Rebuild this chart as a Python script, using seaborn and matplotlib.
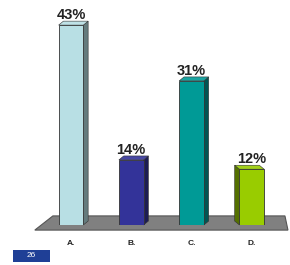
import matplotlib
matplotlib.use("Agg")
import matplotlib.pyplot as plt
import seaborn as sns
import pandas as pd
import numpy as np
from matplotlib.patches import Polygon, Rectangle
import matplotlib.colors as mcolors

categories = ["A.", "B.", "C.", "D."]
values = [43, 14, 31, 12]
labels = ["43%", "14%", "31%", "12%"]
colors = ["#b8dfe4", "#333399", "#009a96", "#99cc00"]
side_dir = [1, 1, 1, -1]
page_number = "26"

sns.set_theme(style="white")
plt.rcParams["font.family"] = ["Liberation Sans", "DejaVu Sans"]

fig = plt.figure(figsize=(2.9, 2.65), dpi=100)
ax = fig.add_axes([0.12, 0.151, 0.873, 0.842])

df = pd.DataFrame({"cat": categories, "val": values})
sns.barplot(data=df, x="cat", y="val", hue="cat", palette=colors, legend=False,
            saturation=1, width=0.41, ax=ax, edgecolor="#333333",
            linewidth=0.6, zorder=3)

ax.set_xlim(-0.6, 3.6)
ax.set_ylim(0, 48)

# floor
floor = Polygon([(-0.6, -1.1), (3.6, -1.1), (3.55, 1.95), (-0.3, 1.95)],
                closed=True, facecolor="#808080", edgecolor="#555555",
                linewidth=0.8, clip_on=False, zorder=1)
ax.add_patch(floor)

dx, dy = 0.08, 0.85
for p, c, d, lab in zip(ax.patches[:len(values)], colors, side_dir, labels):
    x0 = p.get_x()
    w = p.get_width()
    h = p.get_height()
    x1 = x0 + w
    dark = np.array(mcolors.to_rgb(c)) * 0.55
    light = np.clip(np.array(mcolors.to_rgb(c)) * 0.9 + 0.1, 0, 1)
    if d > 0:
        side = [(x1, 0), (x1 + dx, dy), (x1 + dx, h + dy), (x1, h)]
        top = [(x0, h), (x0 + dx, h + dy), (x1 + dx, h + dy), (x1, h)]
    else:
        side = [(x0, 0), (x0 - dx, dy), (x0 - dx, h + dy), (x0, h)]
        top = [(x1, h), (x1 - dx, h + dy), (x0 - dx, h + dy), (x0, h)]
    ax.add_patch(Polygon(side, closed=True, facecolor=dark, edgecolor="#333333",
                         linewidth=0.4, zorder=2.5, clip_on=False))
    ax.add_patch(Polygon(top, closed=True, facecolor=light, edgecolor="#333333",
                         linewidth=0.4, zorder=2.5, clip_on=False))
    ax.text(x0 + w / 2, h + 0.7, lab, ha="center", va="bottom",
            fontsize=10.5, fontweight="bold", color="#222222")

for s in ax.spines.values():
    s.set_visible(False)
ax.set_yticks([])
ax.set_xlabel("")
ax.set_ylabel("")
ax.tick_params(axis="x", length=0, pad=11, labelsize=6)
for t in ax.get_xticklabels():
    t.set_fontweight("bold")
    t.set_color("#222222")

fig.patches.append(Rectangle((0.045, 0.012), 0.128, 0.045, transform=fig.transFigure,
                             facecolor="#1f3f96", edgecolor="none"))
fig.text(0.109, 0.034, page_number, ha="center", va="center", fontsize=6,
         color="white")

fig.savefig("out.png", dpi=100)
